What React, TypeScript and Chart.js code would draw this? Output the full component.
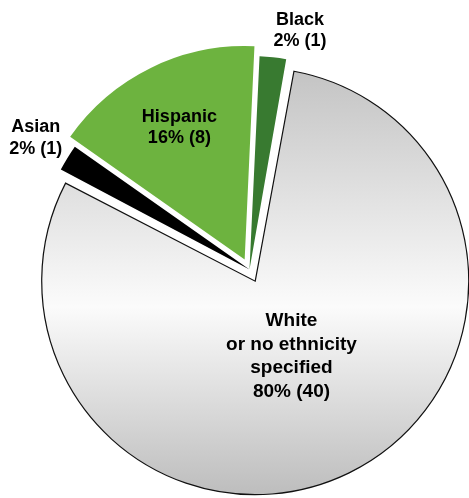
import React, { useEffect, useRef } from 'react';
import { Chart, registerables } from 'chart.js';

Chart.register(...registerables);

// ---- data ----
const categoryLines: string[][] = [
  ['Black'],
  ['White', 'or no ethnicity', 'specified'],
  ['Asian'],
  ['Hispanic'],
];
const counts: number[] = [1, 40, 1, 8];
const sliceColors: string[] = ['#387a30', 'gradient', '#000000', '#6db33f'];
const sliceOffsets: number[] = [0, 13, 0, 11]; // explode distance in px
const labelInside: boolean[] = [false, true, false, true];
const labelDistance: number[] = [0, 0.386, 0, 0.695]; // fraction of radius for inside labels
const labelNudgeY: number[] = [1, 1, 5, 1];
const labelFontSizes: number[] = [18, 19, 18, 18];
const labelLineHeights: number[] = [1.2, 1.25, 1.2, 1.2];

const RADIUS = 213.5;
const ROTATION = 2.7;
const OUTSIDE_GAP = 6;
const FONT = '"Liberation Sans", Arial, sans-serif';

const total = counts.reduce((a, b) => a + b, 0);
const labelLines = (i: number) => [
  ...categoryLines[i],
  `${Math.round((counts[i] / total) * 100)}% (${counts[i]})`,
];

const sliceLabelPlugin = {
  id: 'sliceLabels',
  beforeDatasetsDraw(chart: any) {
    const meta = chart.getDatasetMeta(0);
    meta.data.forEach((arc: any, i: number) => {
      const fix = 1 - Math.sin(Math.min(Math.PI, arc.circumference || 0));
      arc.outerRadius = RADIUS - fix * sliceOffsets[i];
    });
  },
  afterDatasetsDraw(chart: any) {
    const meta = chart.getDatasetMeta(0);
    const ctx = chart.ctx;
    ctx.save();
    ctx.fillStyle = '#000';
    ctx.textAlign = 'center';
    ctx.textBaseline = 'middle';
    meta.data.forEach((arc: any, i: number) => {
      const mid = (arc.startAngle + arc.endAngle) / 2;
      const dx = Math.cos(mid);
      const dy = Math.sin(mid);
      const cx = arc.x + dx * sliceOffsets[i];
      const cy = arc.y + dy * sliceOffsets[i];
      const lines = labelLines(i);
      const size = labelFontSizes[i];
      const lh = size * labelLineHeights[i];
      ctx.font = `bold ${size}px ${FONT}`;
      const w = Math.max(...lines.map((l) => ctx.measureText(l).width));
      const h = lines.length * lh;
      let bx: number;
      let by: number;
      if (labelInside[i]) {
        const d = RADIUS * labelDistance[i];
        bx = cx + dx * d;
        by = cy + dy * d;
      } else {
        const d = RADIUS + OUTSIDE_GAP;
        const ax = cx + dx * d;
        const ay = cy + dy * d;
        bx = ax + Math.sign(dx) * (w / 2);
        by = ay + Math.sign(dy) * (h / 2);
      }
      by += labelNudgeY[i];
      lines.forEach((l, k) => {
        ctx.fillText(l, bx, by - h / 2 + lh * (k + 0.5));
      });
    });
    ctx.restore();
  },
};

export default function App() {
  const canvasRef = useRef<HTMLCanvasElement | null>(null);

  useEffect(() => {
    const canvas = canvasRef.current;
    if (!canvas) return;
    const chart = new Chart(canvas, {
      type: 'pie',
      data: {
        labels: categoryLines.map((l) => l.join(' ')),
        datasets: [
          {
            data: counts,
            backgroundColor: (c: any) => {
              const i = c.dataIndex;
              if (sliceColors[i] !== 'gradient') return sliceColors[i];
              const area = c.chart.chartArea;
              if (!area) return '#eeeeee';
              const cy = (area.top + area.bottom) / 2;
              const g = c.chart.ctx.createLinearGradient(0, cy - RADIUS, 0, cy + RADIUS);
              g.addColorStop(0, '#c3c3c3');
              g.addColorStop(0.56, '#fbfbfb');
              g.addColorStop(1, '#bdbdbd');
              return g;
            },
            borderColor: counts.map((_, i) => (sliceColors[i] === 'gradient' ? '#111111' : 'rgba(0,0,0,0)')),
            borderWidth: counts.map((_, i) => (sliceColors[i] === 'gradient' ? 1.2 : 0)),
            borderJoinStyle: 'miter',
            offset: sliceOffsets.map((o) => o * 4),
            hoverOffset: 0,
            radius: RADIUS,
            clip: false,
          } as any,
        ],
      },
      options: {
        animation: false,
        responsive: true,
        maintainAspectRatio: false,
        rotation: ROTATION,
        radius: RADIUS,
        layout: { padding: { left: 30, right: 0, top: 41, bottom: 0 } },
        plugins: {
          legend: { display: false },
          tooltip: { enabled: false },
        },
        events: [],
      } as any,
      plugins: [sliceLabelPlugin],
    });
    return () => chart.destroy();
  }, []);

  return (
    <div style={{ position: 'fixed', left: 0, top: 0, width: '100vw', height: '100vh', background: '#ffffff' }}>
      <canvas ref={canvasRef} />
    </div>
  );
}
